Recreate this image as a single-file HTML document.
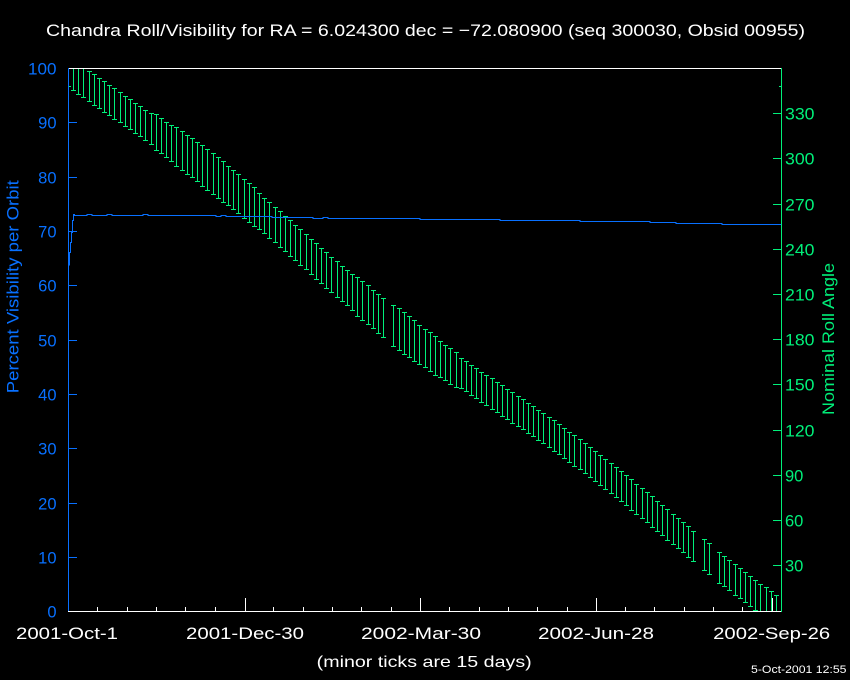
<!DOCTYPE html>
<html><head><meta charset="utf-8"><style>
html,body{margin:0;padding:0;background:#000;}
svg{display:block;}
text{font-family:"Liberation Sans","DejaVu Sans",sans-serif;}
</style></head><body>
<svg width="850" height="680" viewBox="0 0 850 680" xmlns="http://www.w3.org/2000/svg">
<rect x="0" y="0" width="850" height="680" fill="#000"/>

<!-- bottom ticks (white) -->
<g fill="#fff" shape-rendering="crispEdges">
<rect x="97" y="607" width="1" height="4"/><rect x="127" y="607" width="1" height="4"/><rect x="156" y="607" width="1" height="4"/><rect x="185" y="607" width="1" height="4"/><rect x="215" y="607" width="1" height="4"/>
<rect x="245" y="598" width="1" height="13"/>
<rect x="273" y="607" width="1" height="4"/><rect x="303" y="607" width="1" height="4"/><rect x="332" y="607" width="1" height="4"/><rect x="361" y="607" width="1" height="4"/><rect x="391" y="607" width="1" height="4"/>
<rect x="420" y="598" width="1" height="13"/>
<rect x="449" y="607" width="1" height="4"/><rect x="479" y="607" width="1" height="4"/><rect x="508" y="607" width="1" height="4"/><rect x="537" y="607" width="1" height="4"/><rect x="567" y="607" width="1" height="4"/>
<rect x="596" y="598" width="1" height="13"/>
<rect x="625" y="607" width="1" height="4"/><rect x="654" y="607" width="1" height="4"/><rect x="684" y="607" width="1" height="4"/><rect x="713" y="607" width="1" height="4"/><rect x="742" y="607" width="1" height="4"/>
<rect x="772" y="598" width="1" height="13"/>
</g>

<!-- green roll bars -->
<path fill="none" stroke="#00f07a" stroke-width="1" shape-rendering="crispEdges" d="
M68.5 68V87M68 86.5h3
M73.5 68V91M71 90.5h5
M78.5 68V95M76 94.5h5
M83.5 68V98M81 97.5h5
M89.5 71V102M87 71.5h5M87 101.5h5
M94.5 74V106M92 74.5h5M92 105.5h5
M99.5 78V109M97 78.5h5M97 108.5h5
M104.5 81V113M102 81.5h5M102 112.5h5
M109.5 85V116M107 85.5h5M107 115.5h5
M114.5 88V120M112 88.5h5M112 119.5h5
M120.5 92V123M118 92.5h5M118 122.5h5
M125.5 96V127M123 96.5h5M123 126.5h5
M130.5 99V130M128 99.5h5M128 129.5h5
M135.5 103V134M133 103.5h5M133 133.5h5
M140.5 106V137M138 106.5h5M138 136.5h5
M145.5 110V141M143 110.5h5M143 140.5h5
M151.5 113V145M149 113.5h5M149 144.5h5
M156.5 114V151M154 114.5h5M154 150.5h5
M161.5 118V154M159 118.5h5M159 153.5h5
M166.5 122V158M164 122.5h5M164 157.5h5
M171.5 125V162M169 125.5h5M169 161.5h5
M176.5 127V167M174 127.5h5M174 166.5h5
M182.5 131V171M180 131.5h5M180 170.5h5
M187.5 135V175M185 135.5h5M185 174.5h5
M192.5 138V178M190 138.5h5M190 177.5h5
M197.5 142V182M195 142.5h5M195 181.5h5
M202.5 145V187M200 145.5h5M200 186.5h5
M207.5 149V191M205 149.5h5M205 190.5h5
M213.5 153V195M211 153.5h5M211 194.5h5
M218.5 157V199M216 157.5h5M216 198.5h5
M223.5 161V203M221 161.5h5M221 202.5h5
M228.5 166V206M226 166.5h5M226 205.5h5
M233.5 170V210M231 170.5h5M231 209.5h5
M238.5 174V214M236 174.5h5M236 213.5h5
M244.5 179V219M242 179.5h5M242 218.5h5
M249.5 183V223M247 183.5h5M247 222.5h5
M254.5 187V227M252 187.5h5M252 226.5h5
M259.5 193V230M257 193.5h5M257 229.5h5
M264.5 198V234M262 198.5h5M262 233.5h5
M269.5 202V239M267 202.5h5M267 238.5h5
M275.5 207V243M273 207.5h5M273 242.5h5
M280.5 211V248M278 211.5h5M278 247.5h5
M285.5 216V252M283 216.5h5M283 251.5h5
M290.5 220V257M288 220.5h5M288 256.5h5
M295.5 225V261M293 225.5h5M293 260.5h5
M300.5 229V266M298 229.5h5M298 265.5h5
M306.5 234V270M304 234.5h5M304 269.5h5
M311.5 239V275M309 239.5h5M309 274.5h5
M316.5 243V280M314 243.5h5M314 279.5h5
M321.5 248V284M319 248.5h5M319 283.5h5
M326.5 252V289M324 252.5h5M324 288.5h5
M331.5 257V293M329 257.5h5M329 292.5h5
M337.5 261V298M335 261.5h5M335 297.5h5
M342.5 266V302M340 266.5h5M340 301.5h5
M347.5 270V306M345 270.5h5M345 305.5h5
M352.5 274V311M350 274.5h5M350 310.5h5
M357.5 277V317M355 277.5h5M355 316.5h5
M362.5 281V321M360 281.5h5M360 320.5h5
M368.5 285V325M366 285.5h5M366 324.5h5
M373.5 290V329M371 290.5h5M371 328.5h5
M378.5 294V334M376 294.5h5M376 333.5h5
M383.5 298V338M381 298.5h5M381 337.5h5
M393.5 305V347M391 305.5h5M391 346.5h5
M399.5 308V351M397 308.5h5M397 350.5h5
M404.5 312V355M402 312.5h5M402 354.5h5
M409.5 316V358M407 316.5h5M407 357.5h5
M414.5 320V362M412 320.5h5M412 361.5h5
M419.5 325V365M417 325.5h5M417 364.5h5
M425.5 329V368M423 329.5h5M423 367.5h5
M430.5 332V372M428 332.5h5M428 371.5h5
M435.5 336V376M433 336.5h5M433 375.5h5
M440.5 341V378M438 341.5h5M438 377.5h5
M445.5 345V381M443 345.5h5M443 380.5h5
M450.5 348V385M448 348.5h5M448 384.5h5
M456.5 352V388M454 352.5h5M454 387.5h5
M461.5 358V389M459 358.5h5M459 388.5h5
M466.5 361V392M464 361.5h5M464 391.5h5
M471.5 365V396M469 365.5h5M469 395.5h5
M476.5 368V399M474 368.5h5M474 398.5h5
M481.5 372V403M479 372.5h5M479 402.5h5
M486.5 375V406M484 375.5h5M484 405.5h5
M492.5 378V410M490 378.5h5M490 409.5h5
M497.5 382V413M495 382.5h5M495 412.5h5
M502.5 385V417M500 385.5h5M500 416.5h5
M507.5 389V420M505 389.5h5M505 419.5h5
M512.5 392V424M510 392.5h5M510 423.5h5
M518.5 396V427M516 396.5h5M516 426.5h5
M523.5 399V430M521 399.5h5M521 429.5h5
M528.5 403V434M526 403.5h5M526 433.5h5
M533.5 406V437M531 406.5h5M531 436.5h5
M538.5 410V441M536 410.5h5M536 440.5h5
M543.5 413V444M541 413.5h5M541 443.5h5
M549.5 417V448M547 417.5h5M547 447.5h5
M554.5 420V452M552 420.5h5M552 451.5h5
M559.5 424V455M557 424.5h5M557 454.5h5
M564.5 428V459M562 428.5h5M562 458.5h5
M569.5 432V463M567 432.5h5M567 462.5h5
M574.5 435V467M572 435.5h5M572 466.5h5
M580.5 439V470M578 439.5h5M578 469.5h5
M585.5 443V474M583 443.5h5M583 473.5h5
M590.5 447V478M588 447.5h5M588 477.5h5
M595.5 451V482M593 451.5h5M593 481.5h5
M600.5 455V486M598 455.5h5M598 485.5h5
M605.5 459V490M603 459.5h5M603 489.5h5
M611.5 463V494M609 463.5h5M609 493.5h5
M616.5 467V498M614 467.5h5M614 497.5h5
M621.5 471V502M619 471.5h5M619 501.5h5
M626.5 475V506M624 475.5h5M624 505.5h5
M631.5 479V511M629 479.5h5M629 510.5h5
M636.5 484V515M634 484.5h5M634 514.5h5
M642.5 488V519M640 488.5h5M640 518.5h5
M647.5 492V523M645 492.5h5M645 522.5h5
M652.5 496V528M650 496.5h5M650 527.5h5
M657.5 501V532M655 501.5h5M655 531.5h5
M662.5 505V536M660 505.5h5M660 535.5h5
M667.5 509V541M665 509.5h5M665 540.5h5
M673.5 514V545M671 514.5h5M671 544.5h5
M678.5 518V549M676 518.5h5M676 548.5h5
M683.5 522V553M681 522.5h5M681 552.5h5
M688.5 526V558M686 526.5h5M686 557.5h5
M693.5 531V562M691 531.5h5M691 561.5h5
M704.5 539V571M702 539.5h5M702 570.5h5
M709.5 543V575M707 543.5h5M707 574.5h5
M719.5 552V584M717 552.5h5M717 583.5h5
M724.5 556V587M722 556.5h5M722 586.5h5
M729.5 560V591M727 560.5h5M727 590.5h5
M735.5 564V596M733 564.5h5M733 595.5h5
M740.5 568V599M738 568.5h5M738 598.5h5
M745.5 572V603M743 572.5h5M743 602.5h5
M750.5 576V607M748 576.5h5M748 606.5h5
M755.5 580V611M753 580.5h5M753 610.5h5
M760.5 584V611M758 584.5h5
M766.5 587V611M764 587.5h5
M771.5 591V611M769 591.5h5
M776.5 595V611M774 595.5h5
M779 86.5h3
"/>

<!-- blue visibility line -->
<path fill="none" stroke="#0870ff" stroke-width="1" shape-rendering="crispEdges" d="M69.5 265.5V252.5H70.5V242.5H71.5V232.5H72.5V220.5H73.5V214.5H74.5V215.5H87V214.5H92V215.5H107V214.5H112V215.5H143V214.5H148V215.5H216V216.5H221V215.5H226V216.5H272V217.5H313V218.5H323V217.5H328V218.5H420V219.5H500V220.5H580V221.5H650V222.5H676V223.5H722V224.5H781"/>

<!-- axes -->
<g shape-rendering="crispEdges">
<rect x="68" y="68" width="713" height="1" fill="#fff"/>
<rect x="68" y="611" width="714" height="1" fill="#fff"/>
<rect x="68" y="68" width="1" height="543" fill="#0870ff"/>
<rect x="781" y="68" width="1" height="544" fill="#00f07a"/>
</g>

<!-- left ticks -->
<g fill="#0870ff" shape-rendering="crispEdges">
<rect x="68" y="122" width="9" height="1"/><rect x="68" y="177" width="9" height="1"/><rect x="68" y="231" width="9" height="1"/><rect x="68" y="285" width="9" height="1"/><rect x="68" y="340" width="9" height="1"/><rect x="68" y="394" width="9" height="1"/><rect x="68" y="448" width="9" height="1"/><rect x="68" y="503" width="9" height="1"/><rect x="68" y="557" width="9" height="1"/>
</g>
<!-- right ticks -->
<g fill="#00f07a" shape-rendering="crispEdges">
<rect x="773" y="113" width="8" height="1"/><rect x="773" y="158" width="8" height="1"/><rect x="773" y="204" width="8" height="1"/><rect x="773" y="249" width="8" height="1"/><rect x="773" y="294" width="8" height="1"/><rect x="773" y="339" width="8" height="1"/><rect x="773" y="384" width="8" height="1"/><rect x="773" y="430" width="8" height="1"/><rect x="773" y="475" width="8" height="1"/><rect x="773" y="520" width="8" height="1"/><rect x="773" y="565" width="8" height="1"/>
</g>

<!-- title -->
<text x="46" y="36" font-size="17" fill="#fff" textLength="759" lengthAdjust="spacingAndGlyphs">Chandra Roll/Visibility for RA = 6.024300 dec = −72.080900 (seq 300030, Obsid 00955)</text>

<!-- left tick labels -->
<g font-size="16.5" fill="#0870ff" text-anchor="end">
<text x="56.5" y="74.5" textLength="28.5" lengthAdjust="spacingAndGlyphs">100</text>
<text x="56.5" y="128.5">90</text>
<text x="56.5" y="183.5">80</text>
<text x="56.5" y="237.5">70</text>
<text x="56.5" y="291.5">60</text>
<text x="56.5" y="346.5">50</text>
<text x="56.5" y="400.5">40</text>
<text x="56.5" y="454.5">30</text>
<text x="56.5" y="509.5">20</text>
<text x="56.5" y="563.5">10</text>
<text x="56.5" y="617.5">0</text>
</g>

<!-- right tick labels -->
<g font-size="16.5" fill="#00f07a">
<text x="785" y="119.5" textLength="29.5" lengthAdjust="spacingAndGlyphs">330</text>
<text x="785" y="164.5" textLength="29.5" lengthAdjust="spacingAndGlyphs">300</text>
<text x="785" y="210.5" textLength="29.5" lengthAdjust="spacingAndGlyphs">270</text>
<text x="785" y="255.5" textLength="29.5" lengthAdjust="spacingAndGlyphs">240</text>
<text x="785" y="300.5" textLength="29.5" lengthAdjust="spacingAndGlyphs">210</text>
<text x="785" y="345.5" textLength="29.5" lengthAdjust="spacingAndGlyphs">180</text>
<text x="785" y="390.5" textLength="29.5" lengthAdjust="spacingAndGlyphs">150</text>
<text x="785" y="436.5" textLength="29.5" lengthAdjust="spacingAndGlyphs">120</text>
<text x="785" y="481.5">90</text>
<text x="785" y="526.5">60</text>
<text x="785" y="571.5">30</text>
</g>

<!-- x tick labels -->
<g font-size="16.5" fill="#fff" text-anchor="middle">
<text x="67" y="639" textLength="102" lengthAdjust="spacingAndGlyphs">2001-Oct-1</text>
<text x="245" y="639" textLength="118" lengthAdjust="spacingAndGlyphs">2001-Dec-30</text>
<text x="421" y="639" textLength="120" lengthAdjust="spacingAndGlyphs">2002-Mar-30</text>
<text x="596" y="639" textLength="116" lengthAdjust="spacingAndGlyphs">2002-Jun-28</text>
<text x="771.7" y="639" textLength="117" lengthAdjust="spacingAndGlyphs">2002-Sep-26</text>
</g>

<text x="424.2" y="667" font-size="16" fill="#fff" text-anchor="middle" textLength="215" lengthAdjust="spacingAndGlyphs">(minor ticks are 15 days)</text>
<text x="751" y="673" font-size="11" fill="#fff" textLength="95.5" lengthAdjust="spacingAndGlyphs">5-Oct-2001 12:55</text>

<!-- axis titles -->
<text transform="translate(18.5,286.7) rotate(-90)" font-size="16.5" fill="#0870ff" text-anchor="middle" textLength="213" lengthAdjust="spacingAndGlyphs">Percent Visibility per Orbit</text>
<text transform="translate(834,339) rotate(-90)" font-size="16.5" fill="#00f07a" text-anchor="middle" textLength="152" lengthAdjust="spacingAndGlyphs">Nominal Roll Angle</text>
</svg>
</body></html>
